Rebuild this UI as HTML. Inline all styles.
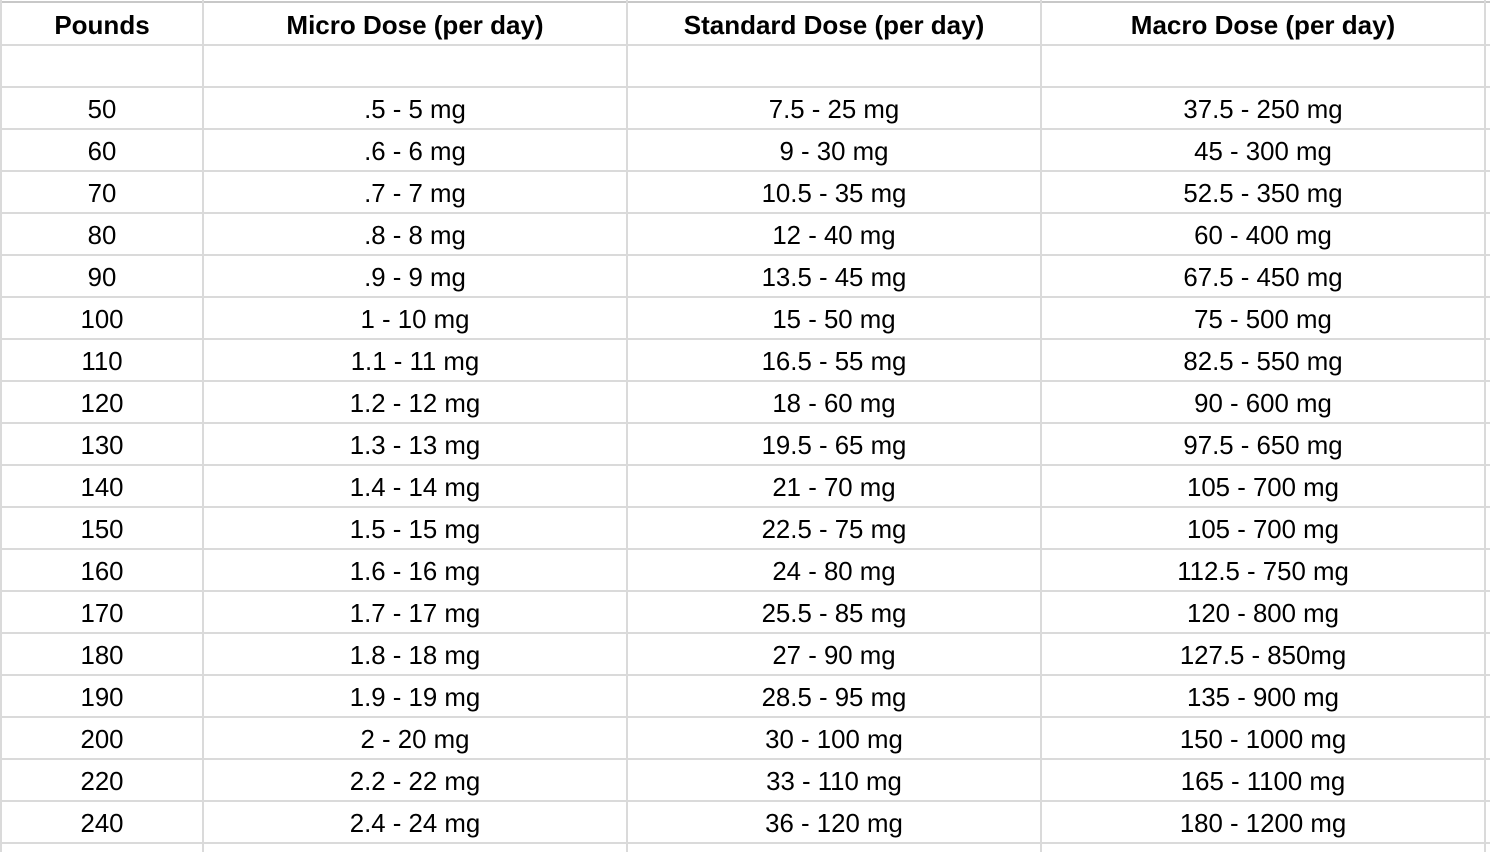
<!DOCTYPE html>
<html>
<head>
<meta charset="utf-8">
<style>
html,body{margin:0;padding:0;background:#fff;}
body{width:1490px;height:852px;position:relative;overflow:hidden;font-family:"Liberation Sans",Arial,sans-serif;color:#000;}
.h{position:absolute;left:0;width:1490px;height:2px;background:#dadada;}
.v{position:absolute;top:0;width:2px;height:852px;background:#dadada;}
.t{position:absolute;height:42px;line-height:42px;font-size:25.8px;text-align:center;white-space:nowrap;}
.b{font-weight:bold;font-size:26px;}
.c1{left:2px;width:200px;}
.c2{left:204px;width:422px;}
.c3{left:628px;width:412px;}
.c4{left:1042px;width:442px;}
</style>
</head>
<body>
<!-- horizontal lines -->
<div class="h" style="top:1px;background:#c8c8c8;"></div>
<div class="h" style="top:44px"></div>
<div class="h" style="top:86px"></div>
<div class="h" style="top:128px"></div>
<div class="h" style="top:170px"></div>
<div class="h" style="top:212px"></div>
<div class="h" style="top:254px"></div>
<div class="h" style="top:296px"></div>
<div class="h" style="top:338px"></div>
<div class="h" style="top:380px"></div>
<div class="h" style="top:422px"></div>
<div class="h" style="top:464px"></div>
<div class="h" style="top:506px"></div>
<div class="h" style="top:548px"></div>
<div class="h" style="top:590px"></div>
<div class="h" style="top:632px"></div>
<div class="h" style="top:674px"></div>
<div class="h" style="top:716px"></div>
<div class="h" style="top:758px"></div>
<div class="h" style="top:800px"></div>
<div class="h" style="top:842px"></div>
<!-- vertical lines -->
<div class="v" style="left:0px"></div>
<div class="v" style="left:202px"></div>
<div class="v" style="left:626px"></div>
<div class="v" style="left:1040px"></div>
<div class="v" style="left:1484px"></div>

<!-- header -->
<div class="t b c1" style="top:4px">Pounds</div>
<div class="t b c2" style="top:4px">Micro Dose (per day)</div>
<div class="t b c3" style="top:4px">Standard Dose (per day)</div>
<div class="t b c4" style="top:4px">Macro Dose (per day)</div>

<!-- rows -->
<div class="t c1" style="top:89px">50</div><div class="t c2" style="top:89px">.5 - 5 mg</div><div class="t c3" style="top:89px">7.5 - 25 mg</div><div class="t c4" style="top:89px">37.5 - 250 mg</div>
<div class="t c1" style="top:131px">60</div><div class="t c2" style="top:131px">.6 - 6 mg</div><div class="t c3" style="top:131px">9 - 30 mg</div><div class="t c4" style="top:131px">45 - 300 mg</div>
<div class="t c1" style="top:173px">70</div><div class="t c2" style="top:173px">.7 - 7 mg</div><div class="t c3" style="top:173px">10.5 - 35 mg</div><div class="t c4" style="top:173px">52.5 - 350 mg</div>
<div class="t c1" style="top:215px">80</div><div class="t c2" style="top:215px">.8 - 8 mg</div><div class="t c3" style="top:215px">12 - 40 mg</div><div class="t c4" style="top:215px">60 - 400 mg</div>
<div class="t c1" style="top:257px">90</div><div class="t c2" style="top:257px">.9 - 9 mg</div><div class="t c3" style="top:257px">13.5 - 45 mg</div><div class="t c4" style="top:257px">67.5 - 450 mg</div>
<div class="t c1" style="top:299px">100</div><div class="t c2" style="top:299px">1 - 10 mg</div><div class="t c3" style="top:299px">15 - 50 mg</div><div class="t c4" style="top:299px">75 - 500 mg</div>
<div class="t c1" style="top:341px">110</div><div class="t c2" style="top:341px">1.1 - 11 mg</div><div class="t c3" style="top:341px">16.5 - 55 mg</div><div class="t c4" style="top:341px">82.5 - 550 mg</div>
<div class="t c1" style="top:383px">120</div><div class="t c2" style="top:383px">1.2 - 12 mg</div><div class="t c3" style="top:383px">18 - 60 mg</div><div class="t c4" style="top:383px">90 - 600 mg</div>
<div class="t c1" style="top:425px">130</div><div class="t c2" style="top:425px">1.3 - 13 mg</div><div class="t c3" style="top:425px">19.5 - 65 mg</div><div class="t c4" style="top:425px">97.5 - 650 mg</div>
<div class="t c1" style="top:467px">140</div><div class="t c2" style="top:467px">1.4 - 14 mg</div><div class="t c3" style="top:467px">21 - 70 mg</div><div class="t c4" style="top:467px">105 - 700 mg</div>
<div class="t c1" style="top:509px">150</div><div class="t c2" style="top:509px">1.5 - 15 mg</div><div class="t c3" style="top:509px">22.5 - 75 mg</div><div class="t c4" style="top:509px">105 - 700 mg</div>
<div class="t c1" style="top:551px">160</div><div class="t c2" style="top:551px">1.6 - 16 mg</div><div class="t c3" style="top:551px">24 - 80 mg</div><div class="t c4" style="top:551px">112.5 - 750 mg</div>
<div class="t c1" style="top:593px">170</div><div class="t c2" style="top:593px">1.7 - 17 mg</div><div class="t c3" style="top:593px">25.5 - 85 mg</div><div class="t c4" style="top:593px">120 - 800 mg</div>
<div class="t c1" style="top:635px">180</div><div class="t c2" style="top:635px">1.8 - 18 mg</div><div class="t c3" style="top:635px">27 - 90 mg</div><div class="t c4" style="top:635px">127.5 - 850mg</div>
<div class="t c1" style="top:677px">190</div><div class="t c2" style="top:677px">1.9 - 19 mg</div><div class="t c3" style="top:677px">28.5 - 95 mg</div><div class="t c4" style="top:677px">135 - 900 mg</div>
<div class="t c1" style="top:719px">200</div><div class="t c2" style="top:719px">2 - 20 mg</div><div class="t c3" style="top:719px">30 - 100 mg</div><div class="t c4" style="top:719px">150 - 1000 mg</div>
<div class="t c1" style="top:761px">220</div><div class="t c2" style="top:761px">2.2 - 22 mg</div><div class="t c3" style="top:761px">33 - 110 mg</div><div class="t c4" style="top:761px">165 - 1100 mg</div>
<div class="t c1" style="top:803px">240</div><div class="t c2" style="top:803px">2.4 - 24 mg</div><div class="t c3" style="top:803px">36 - 120 mg</div><div class="t c4" style="top:803px">180 - 1200 mg</div>
</body>
</html>
